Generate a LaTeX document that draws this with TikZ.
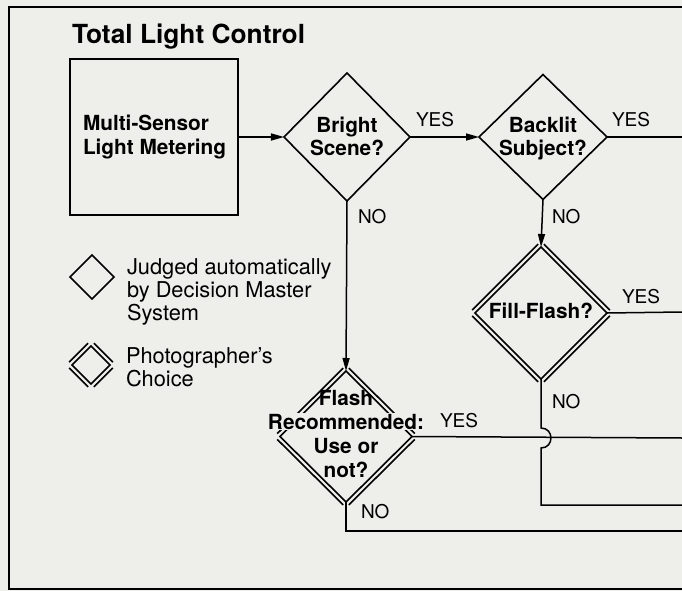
\documentclass[tikz,border=0pt]{standalone}
\usepackage{fontspec}
\setmainfont{TeX Gyre Heros}
\usetikzlibrary{shapes.geometric,arrows.meta,calc}
\definecolor{bg}{RGB}{238,238,235}
\setlength{\fboxsep}{1pt}
\newcommand\dbldia[2]{%
  \foreach \p/\q in {north/east,east/south,south/west,west/north}
    \draw[dialine] ($(#1.\p)!#2!90:(#1.\q)$) -- ($(#1.\q)!#2!-90:(#1.\p)$);}
\begin{document}
\begin{tikzpicture}[x=1pt,y=-1pt,
  every node/.style={inner sep=0pt,outer sep=0pt},
  conn/.style={line width=1.5pt},
  arr/.style={conn,-{Triangle[length=13pt,width=7pt]}},
  dia/.style={shape=diamond,draw,line width=1.6pt,inner sep=0pt,outer sep=0pt},
  dialine/.style={line width=1.6pt,line cap=butt},
  boldtxt/.style={font=\bfseries\fontsize{20.8}{23}\selectfont,align=center},
  lbl/.style={font=\fontsize{19}{20}\selectfont,anchor=base west},
  legtxt/.style={font=\fontsize{21.8}{23}\selectfont,align=left,anchor=west}]
\useasboundingbox (0,0) rectangle (682,591);
\fill[bg] (0,0) rectangle (682,591);
% frame
\draw[line width=1.6pt] (682,7) -- (9,7) -- (9,589) -- (682,589);
% title
\node[anchor=base west,font=\bfseries\fontsize{26.3}{28}\selectfont] (title) at (72,44) {Total Light Control};
% box
\node[draw,line width=1.6pt,minimum width=168pt,minimum height=156pt] (box) at (154,137) {};
\node[anchor=west,align=left,font=\bfseries\fontsize{20.8}{24}\selectfont] (boxT) at (83,137.5) {Multi-Sensor\\Light Metering};
% diamonds
\node[dia,minimum width=126pt,minimum height=128pt] (bright) at (347,137) {};
\node[dia,minimum width=128pt,minimum height=125pt] (backlit) at (543,137) {};
\node[dia,minimum width=132pt,minimum height=132pt] (fill) at (541,313) {};
\node[dia,minimum width=132pt,minimum height=131pt] (flashrec) at (346,436.5) {};
\dbldia{fill}{4pt}
\dbldia{flashrec}{4pt}
% legend
\node[dia,minimum size=44pt] (legA) at (92,277) {};
\node[dia,minimum size=38pt] (legB) at (91,365) {};
\dbldia{legB}{4pt}
\node[legtxt] (legAt) at (127,291.6) {Judged automatically\\by Decision Master\\System};
\node[legtxt] (legBt) at (126,367.4) {Photographer’s\\Choice};
% diamond texts
\node[boldtxt] (brightT) at (347,136.3) {Bright\\Scene?};
\node[boldtxt] (backlitT) at (543,138.4) {Backlit\\Subject?};
\node[boldtxt] (fillT) at (541,311) {Fill-Flash?};
\node[boldtxt,font=\bfseries\fontsize{20.8}{24}\selectfont] (flashT) at (346,433.8) {Flash\\\colorbox{bg}{Recommended:}\\Use or\\not?};
% right-edge coordinates
\coordinate (e1) at (682,137);
\coordinate (e2) at (682,312);
\coordinate (e3) at (682,438);
\coordinate (j1) at (541,428);
\coordinate (j2) at (541,448);
\coordinate (c4) at (541,505);
\coordinate (e4) at (682,505);
\coordinate (c5) at (346,531);
\coordinate (e5) at (682,531);
% connectors
\draw[arr] (box) -- (bright);
\draw[arr] (bright) -- (backlit);
\draw[conn] (backlit.east) -- (e1);
\draw[arr] (bright.south) -- (flashrec.north);
\draw[arr] (backlit.south) -- (fill.north);
\draw[conn] (fill.east) -- (e2);
\draw[conn] (flashrec.east) -- (e3);
\draw[conn] (fill.south) -- (j1) to[out=0,in=0,looseness=1.7] (j2) -- (c4) -- (e4);
\draw[conn] (flashrec.south) -- (c5) -- (e5);
% labels
\node[lbl] (y1) at (416,126) {YES};
\node[lbl] (y2) at (612,126) {YES};
\node[lbl] (n1) at (358,223) {NO};
\node[lbl] (n2) at (552,223) {NO};
\node[lbl] (y3) at (622,303) {YES};
\node[lbl] (n3) at (552,408) {NO};
\node[lbl] (y4) at (440,427) {YES};
\node[lbl] (n4) at (361,518) {NO};
\end{tikzpicture}
\end{document}
